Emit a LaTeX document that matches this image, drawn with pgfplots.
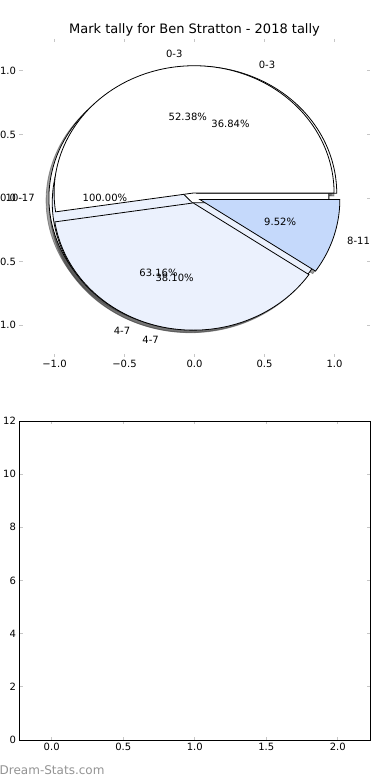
\documentclass[border=0pt]{standalone}
\usepackage{pgfplots}
\pgfplotsset{compat=1.18}
\usepackage{fontspec}
\setmainfont{DejaVu Sans}
\definecolor{cA}{RGB}{235,241,253}
\definecolor{cB}{RGB}{197,217,251}
\definecolor{shd}{RGB}{70,70,70}
\begin{document}
\begin{tikzpicture}
\path[use as bounding box] (0pt,0pt) rectangle (390pt,780pt);
\pgfplotsset{every axis/.append style={
  scale only axis, font=\fontsize{10}{12}\selectfont,
  tick align=inside, major tick length=3pt,
  tick style={gray!45, line width=0.8pt},
  /pgf/number format/assume math mode=true}}
% ---------------- pie axis ----------------
\begin{axis}[at={(19.5pt,423pt)}, anchor=south west, width=350pt, height=318pt,
  xmin=-1.25, xmax=1.25, ymin=-1.25, ymax=1.25, clip=false,
  axis line style={draw=none},
  xtick={-1,-0.5,0,0.5,1}, xticklabels={−1.0,−0.5,0.0,0.5,1.0},
  ytick={-1,-0.5,0,0.5,1}, yticklabels={−1.0,−0.5,0.0,0.5,1.0}]
% shadows (offset -0.02,-0.02)
\addplot[fill=shd, draw=shd, opacity=0.5, line width=0.8pt, domain=0:360, samples=180] ({-0.06+cos(x)},{-0.02+sin(x)}) -- cycle;
\addplot[fill=shd, draw=shd, opacity=0.5, line width=0.8pt, domain=0:132.632, samples=70] ({-0.0039+cos(x)},{0.0166+sin(x)}) -- (axis cs:-0.0039,0.0166) -- cycle;
\addplot[fill=shd, draw=shd, opacity=0.5, line width=0.8pt, domain=132.632:360, samples=120] ({-0.0361+cos(x)},{-0.0566+sin(x)}) -- (axis cs:-0.0361,-0.0566) -- cycle;
\addplot[fill=shd, draw=shd, opacity=0.5, line width=0.8pt, domain=0:188.568, samples=100] ({-0.0230+cos(x)},{0.0199+sin(x)}) -- (axis cs:-0.0230,0.0199) -- cycle;
\addplot[fill=shd, draw=shd, opacity=0.5, line width=0.8pt, domain=188.568:325.728, samples=80] ({-0.0289+cos(x)},{-0.0590+sin(x)}) -- (axis cs:-0.0289,-0.0590) -- cycle;
\addplot[fill=shd, draw=shd, opacity=0.5, line width=0.8pt, domain=325.728:360, samples=30] ({0.0182+cos(x)},{-0.0318+sin(x)}) -- (axis cs:0.0182,-0.0318) -- cycle;
% pie C: 10-17 100%
\addplot[fill=white, draw=black, line width=0.8pt, domain=0:360, samples=180] ({-0.04+cos(x)},{sin(x)}) -- cycle;
% pie B: 0-3 36.84%, 4-7 63.16%
\addplot[fill=white, draw=black, line width=0.8pt, domain=0:132.632, samples=70] ({0.0161+cos(x)},{0.0366+sin(x)}) -- (axis cs:0.0161,0.0366) -- cycle;
\addplot[fill=cA, draw=black, line width=0.8pt, domain=132.632:360, samples=120] ({-0.0161+cos(x)},{-0.0366+sin(x)}) -- (axis cs:-0.0161,-0.0366) -- cycle;
% pie A: 0-3 52.38%, 4-7 38.10%, 8-11 9.52%
\addplot[fill=white, draw=black, line width=0.8pt, domain=0:188.568, samples=100] ({-0.0030+cos(x)},{0.0399+sin(x)}) -- (axis cs:-0.0030,0.0399) -- cycle;
\addplot[fill=cA, draw=black, line width=0.8pt, domain=188.568:325.728, samples=80] ({-0.0089+cos(x)},{-0.0390+sin(x)}) -- (axis cs:-0.0089,-0.0390) -- cycle;
\addplot[fill=cB, draw=black, line width=0.8pt, domain=325.728:360, samples=30] ({0.0382+cos(x)},{-0.0118+sin(x)}) -- (axis cs:0.0382,-0.0118) -- cycle;
% labels
\node[anchor=east, inner sep=0pt] at (axis cs:-1.14,0) {10-17};
\node[inner sep=0pt] at (axis cs:-0.64,0) {100.00\%};
\node[anchor=west, inner sep=0pt] at (axis cs:0.458,1.044) {0-3};
\node[anchor=east, inner sep=0pt] at (axis cs:-0.458,-1.044) {4-7};
\node[inner sep=0pt] at (axis cs:0.2571,0.5861) {36.84\%};
\node[inner sep=0pt] at (axis cs:-0.2571,-0.5861) {63.16\%};
\node[anchor=east, inner sep=0pt] at (axis cs:-0.085,1.137) {0-3};
\node[anchor=east, inner sep=0pt] at (axis cs:-0.2535,-1.1115) {4-7};
\node[anchor=west, inner sep=0pt] at (axis cs:1.0894,-0.3359) {8-11};
\node[inner sep=0pt] at (axis cs:-0.0478,0.6382) {52.38\%};
\node[inner sep=0pt] at (axis cs:-0.1423,-0.624) {38.10\%};
\node[inner sep=0pt] at (axis cs:0.6116,-0.1886) {9.52\%};
\end{axis}
% ---------------- empty axis ----------------
\begin{axis}[at={(19.5pt,40pt)}, anchor=south west, width=350.5pt, height=319pt,
  xmin=-0.225, xmax=2.225, ymin=0, ymax=12,
  axis line style={black, line width=0.8pt},
  xtick={0,0.5,1,1.5,2}, xticklabels={0.0,0.5,1.0,1.5,2.0},
  ytick={0,2,4,6,8,10,12}, yticklabels={0,2,4,6,8,10,12}]
\addplot[draw=none] coordinates {(0,0) (2,12)};
\end{axis}
\node[font=\fontsize{13}{15}\selectfont] at (194.5pt,750.5pt) {Mark tally for Ben Stratton - 2018 tally};
\node[anchor=west, inner sep=0pt, text=gray!85, font=\fontsize{12}{14}\selectfont] at (-0.5pt,10pt) {Dream-Stats.com};
\end{tikzpicture}
\end{document}
